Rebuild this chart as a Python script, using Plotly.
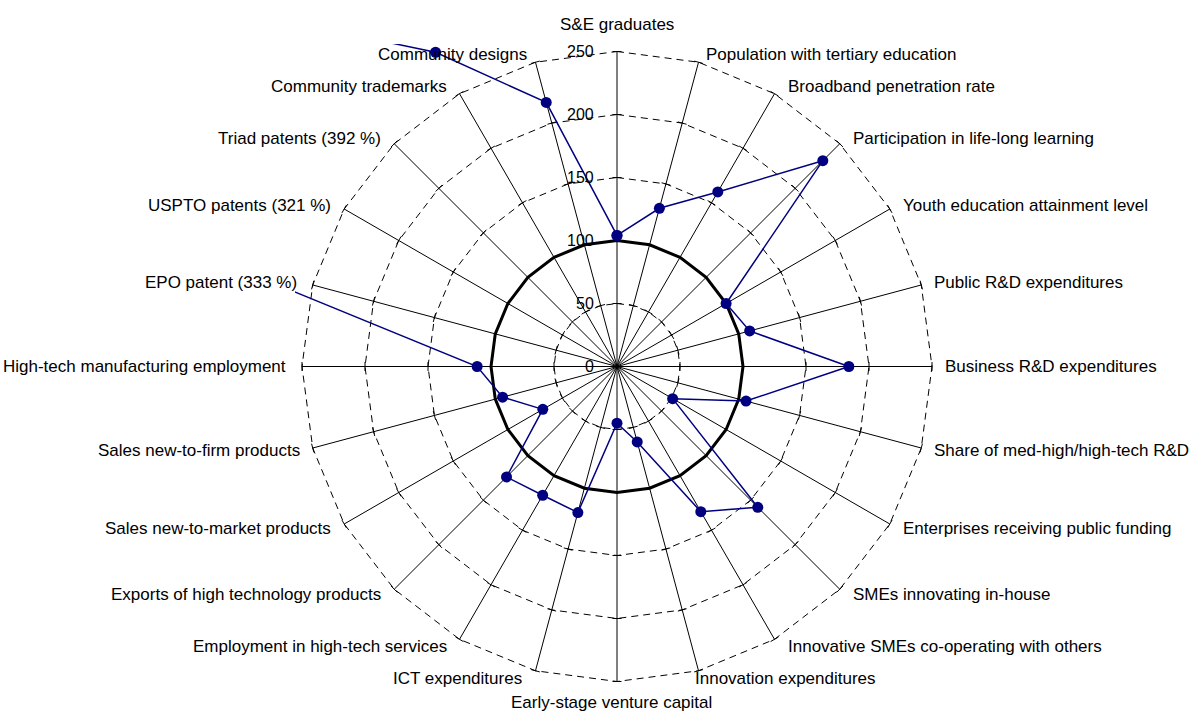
import math
import plotly.graph_objects as go

# Innovation scoreboard indicators, clockwise from the top (EU = 100)
categories = [
    "S&E graduates",
    "Population with tertiary education",
    "Broadband penetration rate",
    "Participation in life-long learning",
    "Youth education attainment level",
    "Public R&D expenditures",
    "Business R&D expenditures",
    "Share of med-high/high-tech R&D",
    "Enterprises receiving public funding",
    "SMEs innovating in-house",
    "Innovative SMEs co-operating with others",
    "Innovation expenditures",
    "Early-stage venture capital",
    "ICT expenditures",
    "Employment in high-tech services",
    "Exports of high technology products",
    "Sales new-to-market products",
    "Sales new-to-firm products",
    "High-tech manufacturing employment",
    "EPO patent (333 %)",
    "USPTO patents (321 %)",
    "Triad patents (392 %)",
    "Community trademarks",
    "Community designs",
]

country_scores = [104, 130, 160, 231, 100, 109, 184, 106, 51, 158, 133, 62,
                  45, 120, 118, 124, 68, 94, 111, 333, 321, 392, 288, 217]

eu_reference = [100, 100, 100, 100, 100, 100, 100, 100, 100, 100, 100, 100,
                100, 100, 100, 100, 100, 100, 100, 100, 100, 100, 100, 100]

radial_ticks = [0, 50, 100, 150, 200, 250]

# ---- page geometry -------------------------------------------------------
W, H = 1192, 713
CX, CY = 617.0, 366.5          # centre of the radar in page pixels
R_MAX = 250                    # outer ring value
PX = 315.0 / R_MAX             # pixels per value unit
CLIP_LEFT, CLIP_TOP = 295, 44  # edges of the plotting area
FONT = "Liberation Sans, Arial, sans-serif"

n = len(categories)
angles = [2 * math.pi * i / n for i in range(n)]   # clockwise from 12 o'clock


def ring_xy(values):
    xs = [v * math.sin(a) for v, a in zip(values, angles)]
    ys = [v * math.cos(a) for v, a in zip(values, angles)]
    return xs + xs[:1], ys + ys[:1]


fig = go.Figure()

# dashed value rings (polygons through the spokes)
gx, gy = [], []
for level in radial_ticks[1:]:
    xs, ys = ring_xy([level] * n)
    gx += xs + [None]
    gy += ys + [None]
fig.add_trace(go.Scatter(x=gx, y=gy, mode="lines", hoverinfo="skip",
                         line=dict(color="black", width=1, dash="7px,5px")))

# spokes
sx, sy = [], []
for a in angles:
    sx += [0, R_MAX * math.sin(a), None]
    sy += [0, R_MAX * math.cos(a), None]
fig.add_trace(go.Scatter(x=sx, y=sy, mode="lines", hoverinfo="skip",
                         line=dict(color="black", width=1)))

# small cross ticks on every spoke
half = 4.5 / PX
tx, ty = [], []
for a in angles:
    for level in radial_ticks[1:]:
        cx, cy = level * math.sin(a), level * math.cos(a)
        px_, py_ = math.cos(a) * half, -math.sin(a) * half
        tx += [cx - px_, cx + px_, None]
        ty += [cy - py_, cy + py_, None]
fig.add_trace(go.Scatter(x=tx, y=ty, mode="lines", hoverinfo="skip",
                         line=dict(color="black", width=1)))

# EU reference ring
ex, ey = ring_xy(eu_reference)
fig.add_trace(go.Scatter(x=ex, y=ey, mode="lines", name="EU",
                         line=dict(color="black", width=3)))

# country profile
cx_, cy_ = ring_xy(country_scores)
fig.add_trace(go.Scatter(x=cx_, y=cy_, mode="lines+markers", name="Country",
                         line=dict(color="#000080", width=1.5),
                         marker=dict(color="#000080", size=11)))

annotations = []

# value labels along the vertical axis
for v in radial_ticks:
    annotations.append(dict(x=0, y=v, xref="x", yref="y", text=str(v),
                            showarrow=False, xanchor="right", yanchor="middle",
                            xshift=-21, font=dict(family=FONT, size=16, color="black")))

# category labels just outside the spoke ends
gap_override = {1: 5, 11: -6, 23: 6, 18: 14, 19: 14}
for i, (label, a) in enumerate(zip(categories, angles)):
    deg = round(math.degrees(a))
    ax_, ay_ = R_MAX * math.sin(a), R_MAX * math.cos(a)
    if deg == 0:
        xa, xs_, ys_ = "center", 0, 27
    elif deg == 180:
        xa, xs_, ys_ = "center", -6, -21
    elif deg < 180:
        xa = "left"
        xs_ = gap_override.get(i, 11)
        ys_ = 8 * math.cos(a)
    else:
        xa = "right"
        xs_ = -gap_override.get(i, 11)
        ys_ = 8 * math.cos(a)
    annotations.append(dict(x=ax_, y=ay_, xref="x", yref="y", text=label,
                            showarrow=False, xanchor=xa, yanchor="middle",
                            xshift=xs_, yshift=ys_,
                            font=dict(family=FONT, size=17, color="black")))

fig.update_layout(
    width=W, height=H, autosize=False,
    margin=dict(l=0, r=0, t=0, b=0, pad=0),
    paper_bgcolor="white", plot_bgcolor="white",
    showlegend=False,
    annotations=annotations,
    xaxis=dict(domain=[CLIP_LEFT / W, 1],
               range=[-(CX - CLIP_LEFT) / PX, (W - CX) / PX],
               visible=False, fixedrange=True),
    yaxis=dict(domain=[0, 1 - CLIP_TOP / H],
               range=[-(H - CY) / PX, (CY - CLIP_TOP) / PX],
               visible=False, fixedrange=True),
)

fig.write_html("out.html")
